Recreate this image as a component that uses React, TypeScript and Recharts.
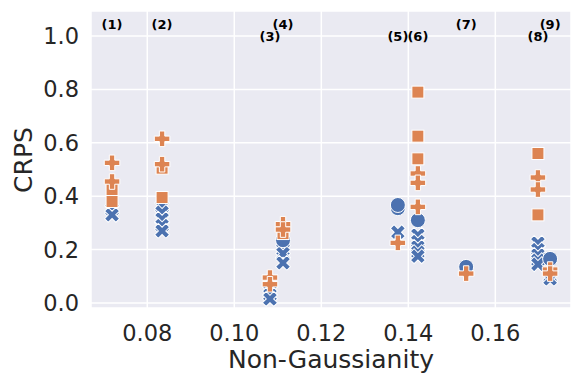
import { CartesianGrid, Label, Scatter, ScatterChart, XAxis, YAxis } from "recharts";

const BLUE = "#4C72B0";
const ORANGE = "#DD8452";
const FONT = "DejaVu Sans";

// blue circles
const circleX = [0.1112, 0.1376, 0.1376, 0.1422, 0.1533, 0.1726];
const circleY = [0.235, 0.355, 0.367, 0.31, 0.135, 0.165];

// blue crosses (stacked, so they read as chevrons)
const crossX = [
  0.0719, 0.0719, 0.0834, 0.0834, 0.0834, 0.0834, 0.0834, 0.1082, 0.1082, 0.1082,
  0.1112, 0.1112, 0.1112, 0.1376, 0.1422, 0.1422, 0.1422, 0.1422, 0.1422, 0.1698,
  0.1698, 0.1698, 0.1698, 0.1698, 0.1726, 0.1726,
];
const crossY = [
  0.35, 0.33, 0.36, 0.34, 0.315, 0.29, 0.27, 0.045, 0.03, 0.015,
  0.2, 0.185, 0.15, 0.265, 0.255, 0.23, 0.21, 0.19, 0.175, 0.225,
  0.2, 0.18, 0.16, 0.145, 0.1, 0.09,
];

// orange squares
const squareX = [0.0719, 0.0719, 0.0834, 0.0834, 0.1112, 0.1422, 0.1422, 0.1422, 0.1698, 0.1698];
const squareY = [0.425, 0.38, 0.505, 0.395, 0.26, 0.79, 0.625, 0.54, 0.56, 0.33];

// orange plus
const plusX = [
  0.0719, 0.0719, 0.0834, 0.0834, 0.1082, 0.1082, 0.1112, 0.1112, 0.1376, 0.1422,
  0.1422, 0.1422, 0.1533, 0.1698, 0.1698, 0.1726, 0.1726,
];
const plusY = [
  0.525, 0.455, 0.615, 0.52, 0.095, 0.07, 0.295, 0.275, 0.225, 0.485,
  0.45, 0.36, 0.11, 0.47, 0.425, 0.125, 0.11,
];

// annotations
const annoX = [0.0719, 0.0834, 0.1082, 0.1112, 0.1376, 0.1422, 0.1533, 0.1698, 0.1726];
const annoY = [1.045, 1.045, 1.0, 1.045, 1.0, 1.0, 1.045, 1.0, 1.045];
const annoLabel = ["(1)", "(2)", "(3)", "(4)", "(5)", "(6)", "(7)", "(8)", "(9)"];

const xTicks = [0.08, 0.1, 0.12, 0.14, 0.16];
const yTicks = [0, 0.2, 0.4, 0.6, 0.8, 1.0];

const toPts = (xs: number[], ys: number[]) => xs.map((x, i) => ({ x, y: ys[i] }));
const circles = toPts(circleX, circleY);
const crosses = toPts(crossX, crossY);
const squares = toPts(squareX, squareY);
const pluses = toPts(plusX, plusY);
const annos = annoX.map((x, i) => ({ x, y: annoY[i], label: annoLabel[i] }));

function plusPath(a: number, b: number) {
  const p = [
    [-b, -a], [b, -a], [b, -b], [a, -b], [a, b], [b, b],
    [b, a], [-b, a], [-b, b], [-a, b], [-a, -b], [-b, -b],
  ];
  return "M" + p.map((q) => q.join(",")).join("L") + "Z";
}

const CircleShape = (p: any) => (
  <circle cx={p.cx} cy={p.cy} r={7.5} fill={BLUE} stroke="#fff" strokeWidth={1} />
);
const CrossShape = (p: any) => (
  <path
    d={plusPath(8, 2.6)}
    transform={`translate(${p.cx},${p.cy}) rotate(45)`}
    fill={BLUE}
    stroke="#fff"
    strokeWidth={1}
  />
);
const SquareShape = (p: any) => (
  <rect x={p.cx - 6} y={p.cy - 6} width={12} height={12} fill={ORANGE} stroke="#fff" strokeWidth={1} />
);
const PlusShape = (p: any) => (
  <path d={plusPath(7.8, 2.7)} transform={`translate(${p.cx},${p.cy})`} fill={ORANGE} stroke="#fff" strokeWidth={1} />
);
const AnnoShape = (p: any) => (
  <text
    x={p.cx}
    y={p.cy}
    textAnchor="middle"
    dominantBaseline="central"
    fontFamily={FONT}
    fontWeight="bold"
    fontSize={13}
    fill="#000"
  >
    {p.payload.label}
  </text>
);

const XTick = (p: any) => (
  <text x={p.x} y={p.y + 25} textAnchor="middle" dominantBaseline="central" fontFamily={FONT} fontSize={22.5} fill="#262626">
    {Number(p.payload.value).toFixed(2)}
  </text>
);
const YTick = (p: any) => (
  <text x={p.x} y={p.y} textAnchor="end" dominantBaseline="central" fontFamily={FONT} fontSize={22.5} fill="#262626">
    {Number(p.payload.value).toFixed(1)}
  </text>
);

export default function App() {
  return (
    <div style={{ position: "absolute", left: 0, top: 0, width: 581, height: 378, background: "#fff" }}>
      <ScatterChart width={581} height={378} margin={{ top: 11, right: 10, bottom: 0, left: 0 }}>
        <CartesianGrid fill="#EAEAF2" stroke="#fff" strokeWidth={1.5} />
        <XAxis
          type="number"
          dataKey="x"
          domain={[0.06706, 0.1774]}
          ticks={xTicks}
          allowDataOverflow
          axisLine={false}
          tickLine={false}
          tickSize={0}
          tickMargin={0}
          height={70}
          tick={<XTick />}
        >
          <Label
            content={() => (
              <text x={331} y={359} textAnchor="middle" dominantBaseline="central" fontFamily={FONT} fontSize={25} fill="#262626">
                Non-Gaussianity
              </text>
            )}
          />
        </XAxis>
        <YAxis
          type="number"
          dataKey="y"
          domain={[-0.019, 1.094]}
          ticks={yTicks}
          allowDataOverflow
          axisLine={false}
          tickLine={false}
          tickSize={0}
          tickMargin={12}
          width={91}
          tick={<YTick />}
        >
          <Label
            content={() => (
              <text
                x={23}
                y={160}
                transform="rotate(-90 23 160)"
                textAnchor="middle"
                dominantBaseline="central"
                fontFamily={FONT}
                fontSize={25}
                fill="#262626"
              >
                CRPS
              </text>
            )}
          />
        </YAxis>
        <Scatter data={crosses} shape={CrossShape} isAnimationActive={false} />
        <Scatter data={circles} shape={CircleShape} isAnimationActive={false} />
        <Scatter data={squares} shape={SquareShape} isAnimationActive={false} />
        <Scatter data={pluses} shape={PlusShape} isAnimationActive={false} />
        <Scatter data={annos} shape={AnnoShape} isAnimationActive={false} />
      </ScatterChart>
    </div>
  );
}
